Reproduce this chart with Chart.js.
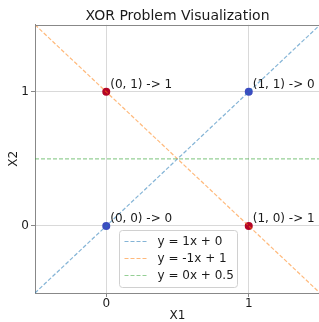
<!DOCTYPE html>
<html>
<head>
<meta charset="utf-8">
<script src="https://cdn.jsdelivr.net/npm/chart.js@4"></script>
<style>
  html, body { margin: 0; padding: 0; background: #fff; overflow: hidden; }
  canvas { display: block; }
</style>
</head>
<body>
<canvas id="xorChart" width="324" height="322"></canvas>
<script>
// data
const xTicks = [0, 1];
const yTicks = [0, 1];
const pointX = [0, 0, 1, 1];
const pointY = [0, 1, 0, 1];
const pointClass = [0, 1, 1, 0];
const pointLabels = ['(0, 0) -> 0', '(0, 1) -> 1', '(1, 0) -> 1', '(1, 1) -> 0'];
const lineLabels = ['y = 1x + 0', 'y = -1x + 1', 'y = 0x + 0.5'];
const lineX = [-0.5, 1.5];
const lineY1 = [-0.5, 1.5];
const lineY2 = [1.5, -0.5];
const lineY3 = [0.5, 0.5];

const classColors = ['#3b4cc0', '#b40426'];
const lineColors = ['rgba(31,119,180,0.55)', 'rgba(255,127,14,0.55)', 'rgba(44,160,44,0.5)'];
const FONT = 'DejaVu Sans';

const toPts = (xs, ys) => xs.map((x, i) => ({ x: x, y: ys[i] }));

// point labels + top border
const extras = {
  id: 'extras',
  afterDatasetsDraw(chart) {
    const ctx = chart.ctx;
    const a = chart.chartArea;
    ctx.save();
    ctx.strokeStyle = '#888';
    ctx.lineWidth = 1;
    ctx.beginPath();
    ctx.moveTo(a.left, Math.round(a.top) + 0.5);
    ctx.lineTo(a.right, Math.round(a.top) + 0.5);
    ctx.moveTo(a.right - 0.5, a.top);
    ctx.lineTo(a.right - 0.5, a.bottom);
    ctx.stroke();

    const meta = chart.getDatasetMeta(3);
    ctx.font = '12px "' + FONT + '"';
    ctx.fillStyle = '#1a1a1a';
    ctx.textBaseline = 'alphabetic';
    meta.data.forEach((el, i) => {
      ctx.fillText(pointLabels[i], el.x + 4, el.y - 4);
    });
    ctx.restore();
  },
  afterDraw(chart) {
    // legend inside the plot, bottom centre
    const ctx = chart.ctx;
    const a = chart.chartArea;
    const w = 118, h = 57;
    const x0 = Math.round((a.left + a.right) / 2 - w / 2) + 0.5;
    const y0 = Math.round(a.bottom - 6 - h) + 0.5;
    ctx.save();
    ctx.beginPath();
    ctx.roundRect(x0, y0, w, h, 3);
    ctx.fillStyle = 'rgba(255,255,255,0.8)';
    ctx.fill();
    ctx.strokeStyle = '#d0d0d0';
    ctx.lineWidth = 1;
    ctx.stroke();
    ctx.font = '12px "' + FONT + '"';
    ctx.textBaseline = 'middle';
    lineLabels.forEach((lab, i) => {
      const y = y0 + 11 + i * 17;
      ctx.strokeStyle = lineColors[i];
      ctx.setLineDash([4, 2]);
      ctx.beginPath();
      ctx.moveTo(x0 + 5, y);
      ctx.lineTo(x0 + 27, y);
      ctx.stroke();
      ctx.setLineDash([]);
      ctx.fillStyle = '#1a1a1a';
      ctx.fillText(lab, x0 + 38, y);
    });
    ctx.restore();
  }
};

const lineSet = (label, ys, i) => ({
  type: 'line',
  label: label,
  data: toPts(lineX, ys),
  borderColor: lineColors[i],
  borderWidth: 1.2,
  borderDash: [4, 2],
  pointRadius: 0,
  fill: false
});

new Chart(document.getElementById('xorChart'), {
  type: 'scatter',
  data: {
    datasets: [
      lineSet(lineLabels[0], lineY1, 0),
      lineSet(lineLabels[1], lineY2, 1),
      lineSet(lineLabels[2], lineY3, 2),
      {
        label: 'points',
        data: toPts(pointX, pointY),
        pointBackgroundColor: pointClass.map(c => classColors[c]),
        pointBorderWidth: 0,
        pointRadius: 4
      }
    ]
  },
  options: {
    responsive: false,
    animation: false,
    layout: { padding: { left: 0, right: 1, top: 0, bottom: 0 } },
    plugins: {
      legend: { display: false },
      tooltip: { enabled: false },
      title: {
        display: true,
        text: 'XOR Problem Visualization',
        fullSize: false,
        color: '#1a1a1a',
        font: { family: FONT, size: 14, weight: 'normal', lineHeight: 1.2 },
        padding: { top: 8, bottom: 0 }
      }
    },
    scales: {
      x: {
        type: 'linear',
        min: -0.5,
        max: 1.5,
        afterBuildTicks: ax => { ax.ticks = xTicks.map(v => ({ value: v })); },
        afterFit: ax => { ax.height = 29; },
        ticks: { padding: 0, color: '#1a1a1a', font: { family: FONT, size: 12 } },
        grid: { color: 'rgba(0,0,0,0.15)', borderDash: [1, 2], tickColor: '#888', tickLength: 4, tickBorderDash: [] },
        border: { color: '#888' },
        title: { display: true, text: 'X1', color: '#1a1a1a', font: { family: FONT, size: 12, lineHeight: 1 }, padding: 0 }
      },
      y: {
        type: 'linear',
        min: -0.5,
        max: 1.5,
        afterBuildTicks: ax => { ax.ticks = yTicks.map(v => ({ value: v })); },
        afterFit: ax => { ax.width = 35; },
        ticks: { padding: 2, color: '#1a1a1a', font: { family: FONT, size: 12 } },
        grid: { color: 'rgba(0,0,0,0.15)', borderDash: [1, 2], tickColor: '#888', tickLength: 4, tickBorderDash: [] },
        border: { color: '#888' },
        title: { display: true, text: 'X2', color: '#1a1a1a', font: { family: FONT, size: 12, lineHeight: 1.2 }, padding: { top: 7, bottom: 0 } }
      }
    }
  },
  plugins: [extras]
});
</script>
</body>
</html>
